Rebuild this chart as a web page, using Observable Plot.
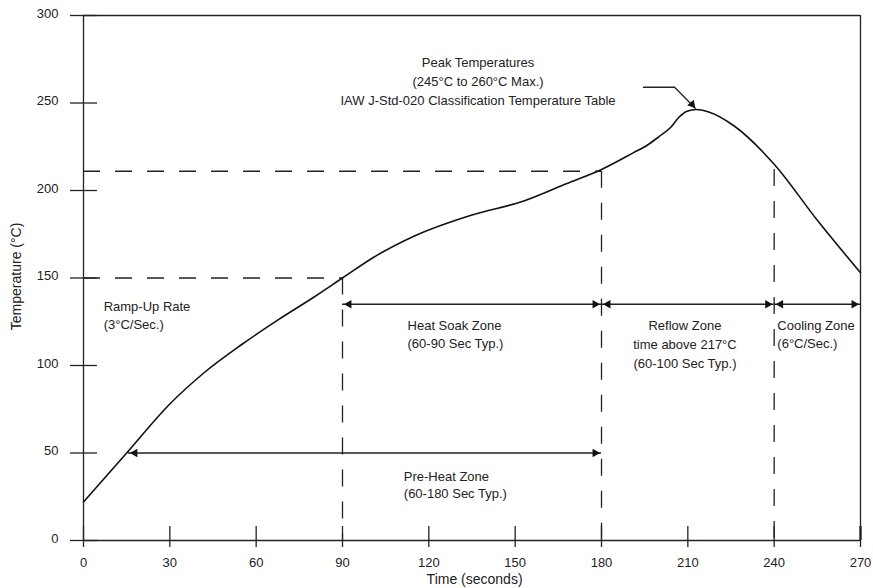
<!DOCTYPE html>
<html><head><meta charset="utf-8">
<script src="https://cdn.jsdelivr.net/npm/d3@7"></script>
<script src="https://cdn.jsdelivr.net/npm/@observablehq/plot@0.6"></script>
<style>body{margin:0;background:#fff} svg{display:block}</style>
</head><body><div id="chart"></div>
<script>
// Reflow profile curve (time in s, temperature in °C)
const times = [0, 15, 30, 42, 55, 68, 80, 90, 101, 115, 135, 153, 168, 180, 191, 196, 200, 204, 207, 209.5, 213, 217, 226, 240, 255, 270];
const temps = [22, 50, 78, 96, 112, 126.5, 139, 150, 162, 174, 186, 194, 204, 212, 221.5, 226, 230.8, 236, 242, 245.2, 246.3, 245, 237, 215, 183, 153];
const xTicks = [0, 30, 60, 90, 120, 150, 180, 210, 240, 270];
const yTicks = [0, 50, 100, 150, 200, 250, 300];
// dashed guides
const hGuideT = [150, 211];
const hGuideEnd = [90, 180];
const vGuideX = [90, 180, 240];
const vGuideTop = [150, 211, 212];
// dimension arrows
const spanFrom = [15.6, 90, 180, 240];
const spanTo = [180, 180, 240, 270];
const spanLevel = [50, 135, 135, 135];
// peak callout leader
const calloutT = [194.6, 205.4, 212.6];
const calloutTemp = [259, 259, 247];
// annotations
const noteText = [
  "Peak Temperatures\n(245°C to 260°C Max.)\nIAW J-Std-020 Classification Temperature Table",
  "Ramp-Up Rate\n(3°C/Sec.)",
  "Heat Soak Zone\n(60-90 Sec Typ.)",
  "Reflow Zone\ntime above 217°C\n(60-100 Sec Typ.)",
  "Cooling Zone\n(6°C/Sec.)",
  "Pre-Heat Zone\n(60-180 Sec Typ.)"
];
const noteT = [137.1, 7.0, 112.6, 209.0, 241.1, 111.3];
const noteTemp = [263.3, 129.1, 118.6, 113.0, 118.6, 32.3];
const noteAnchor = ["middle", "start", "start", "middle", "start", "start"];
const noteLineHeight = [1.46, 1.38, 1.42, 1.45, 1.42, 1.3];
const xLabel = "Time (seconds)";
const yLabel = "Temperature (°C)";

const curve = times.map((t, i) => ({t, T: temps[i]}));
const hGuides = hGuideT.map((T, i) => ({T, end: hGuideEnd[i]}));
const vGuides = vGuideX.map((t, i) => ({t, top: vGuideTop[i]}));
const spans = spanFrom.map((f, i) => ({from: f, to: spanTo[i], T: spanLevel[i]}));
const callout = calloutT.map((t, i) => ({t, T: calloutTemp[i]}));
const notes = noteText.map((s, i) => ({s, t: noteT[i], T: noteTemp[i], a: noteAnchor[i], lh: noteLineHeight[i]}));

const W = 873, H = 588, ML = 83, MR = 13, MT = 15, MB = 48;
const sx = 270 / (W - ML - MR);   // seconds per px
const sy = 300 / (H - MT - MB);   // degrees per px
const ink = "#222";
const headR = 3.2;
const tipOff = 2 * 0.7776 * headR;   // centroid-to-tip of triangle symbol
const gap = 1.5;

const marks = [
  // frame
  Plot.ruleY([0, 300], {x1: () => 0, x2: () => 270, stroke: ink, strokeWidth: 1.3}),
  Plot.ruleX([0, 270], {y1: () => 0, y2: () => 300, stroke: ink, strokeWidth: 1.3}),
  // ticks crossing the axes
  Plot.ruleY(yTicks, {x1: () => -13 * sx, x2: () => 14 * sx, stroke: ink, strokeWidth: 1.3}),
  Plot.ruleX(xTicks, {y1: () => -7 * sy, y2: () => 14 * sy, stroke: ink, strokeWidth: 1.3}),
  Plot.ruleX([270], {y1: () => 0, y2: () => 14 * sy, stroke: ink, strokeWidth: 2.2}),
  // tick labels
  Plot.text(yTicks, {x: () => 0, y: d => d, text: d => String(d), dx: -25, dy: -2, textAnchor: "end", fontSize: 13, fill: ink}),
  Plot.text(xTicks, {x: d => d, y: () => 0, text: d => String(d), dy: 22, textAnchor: "middle", fontSize: 13, fill: ink}),
  // axis titles
  Plot.text([xLabel], {x: () => 135.9, y: () => 0, text: d => d, dy: 39, fontSize: 14, fill: ink}),
  Plot.text([yLabel], {x: () => 0, y: () => 150.9, text: d => d, dx: -67, rotate: -90, fontSize: 14, fill: ink}),
  // dashed guides
  Plot.ruleY(hGuides, {y: "T", x1: () => 0, x2: "end", stroke: ink, strokeWidth: 1.3, strokeDasharray: "17,15"}),
  Plot.ruleX(vGuides, {x: "t", y1: "top", y2: () => 0, stroke: ink, strokeWidth: 1.3, strokeDasharray: "17,15"}),
  // profile curve
  Plot.line(curve, {x: "t", y: "T", curve: "monotone-x", stroke: "#111", strokeWidth: 1.6}),
  // dimension arrows
  Plot.ruleY(spans, {y: "T", x1: "from", x2: "to", stroke: ink, strokeWidth: 1.3}),
  Plot.dot(spans, {x: "to", y: "T", symbol: "triangle", r: headR, rotate: 90, dx: -(tipOff + gap), fill: "#111", stroke: "none"}),
  Plot.dot(spans, {x: "from", y: "T", symbol: "triangle", r: headR, rotate: -90, dx: tipOff + gap, fill: "#111", stroke: "none"}),
  // peak callout
  Plot.line(callout, {x: "t", y: "T", stroke: ink, strokeWidth: 1.3}),
  Plot.dot(callout.slice(-1), {x: "t", y: "T", symbol: "triangle", r: headR, rotate: 140,
    dx: -tipOff * Math.sin(140 * Math.PI / 180), dy: tipOff * Math.cos(140 * Math.PI / 180), fill: "#111", stroke: "none"}),
];
// annotations (separate marks for line heights)
notes.forEach(n => {
  marks.push(Plot.text([n], {x: "t", y: "T", text: "s", textAnchor: n.a, lineHeight: n.lh, fontSize: 13, fill: ink}));
});

const chart = Plot.plot({
  width: W, height: H,
  marginLeft: ML, marginRight: MR, marginTop: MT, marginBottom: MB,
  x: {domain: [0, 270], axis: null},
  y: {domain: [0, 300], axis: null},
  style: {fontFamily: "'Liberation Sans', Arial, sans-serif", background: "#fff", overflow: "visible"},
  marks
});
document.getElementById("chart").appendChild(chart);
</script>
</body></html>
